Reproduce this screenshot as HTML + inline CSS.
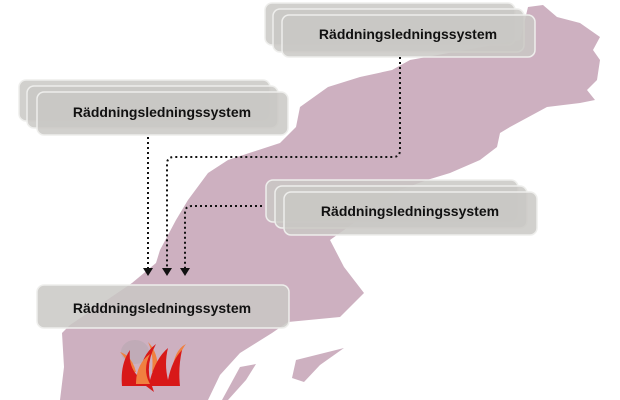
<!DOCTYPE html>
<html><head><meta charset="utf-8"><style>
html,body{margin:0;padding:0;background:#fff;width:620px;height:400px;overflow:hidden}
svg{display:block}
text{font-family:"Liberation Sans",sans-serif;font-weight:bold;font-size:14px;fill:#111}
.b{fill:#c9c8c4;fill-opacity:.85;stroke:#eeeeec;stroke-width:1.5}
</style></head><body>
<svg width="620" height="400" viewBox="0 0 620 400">
<path fill="#cdb0c0" d="M528,7 L543,5 L557,17 L580,23 L600,37 L593,50 L600,60 L597,80 L587,90 L595,100 L580,103 L547,107 L510,127 L500,133 L497,147 L480,160 L450,173 L427,180 L400,190 L330,240 L344,267 L364,293 L340,317 L288,322 L272,333 L240,353 L220,375 L208,400 L60,400 L64,367 L62,333 L70,325 L132,283 L156,263 L160,250 L176,220 L188,200 L208,173 L228,160 L280,143 L296,127 L300,107 L328,87 L360,77 L392,70 L410,60 L520,40 Z"/>
<path fill="#cdb0c0" d="M296,360 L344,348 L320,365 L304,382 L292,378 Z"/>
<path fill="#cdb0c0" d="M240,367 L256,364 L246,380 L228,400 L222,400 Z"/>
<g>
<rect class="b" x="265" y="3" width="250" height="42" rx="7"/>
<rect class="b" x="273" y="9" width="251" height="43" rx="7"/>
<rect class="b" x="282" y="15" width="253" height="42" rx="7"/>
<text x="408" y="39" text-anchor="middle">Räddningsledningssystem</text>
</g>
<g>
<rect class="b" x="19" y="80" width="251" height="41" rx="7"/>
<rect class="b" x="27" y="86" width="251" height="42" rx="7"/>
<rect class="b" x="37" y="92" width="251" height="43" rx="7"/>
<text x="162" y="117" text-anchor="middle">Räddningsledningssystem</text>
</g>
<g>
<rect class="b" x="266" y="180" width="252" height="42" rx="7"/>
<rect class="b" x="275" y="186" width="252" height="42" rx="7"/>
<rect class="b" x="284" y="192" width="253" height="43" rx="7"/>
<text x="410" y="216" text-anchor="middle">Räddningsledningssystem</text>
</g>
<rect class="b" x="37" y="285" width="252" height="43" rx="7"/>
<text x="162" y="313" text-anchor="middle">Räddningsledningssystem</text>
<g fill="none" stroke="#111" stroke-width="2" stroke-dasharray="2,3">
<path d="M148,137 V268"/>
<path d="M400,57 V150 Q400,157 393,157 H174 Q167,157 167,164 V268"/>
<path d="M262,206 H192 Q185,206 185,213 V268"/>
</g>
<g fill="#111">
<path d="M143,268 H153 L148,276 Z"/>
<path d="M162,268 H172 L167,276 Z"/>
<path d="M180,268 H190 L185,276 Z"/>
</g>
<g>
<ellipse cx="135" cy="352" rx="14" ry="12" fill="#b8a8b0" opacity=".6"/>
<path d="M120,352 Q132,356 136,372 L130,372 Q128,360 120,352 Z" fill="#f08040"/>
<path d="M186,344 Q174,350 172,372 L178,372 Q178,354 186,344 Z" fill="#f08040"/>
<path d="M148,342 Q158,352 158,370 L152,372 Q154,354 148,342 Z" fill="#f08040"/>
<path d="M122,386 Q120,364 130,350 Q128,368 140,378 Q140,356 156,344 Q146,362 150,380 Q156,358 168,348 Q164,364 168,380 Q172,360 182,350 Q178,368 180,386 L152,386 L154,392 L146,386 Z" fill="#d81818"/>
<path d="M136,384 Q136,364 150,354 Q142,370 150,384 Z" fill="#f08040"/>
</g>
</svg>
</body></html>
